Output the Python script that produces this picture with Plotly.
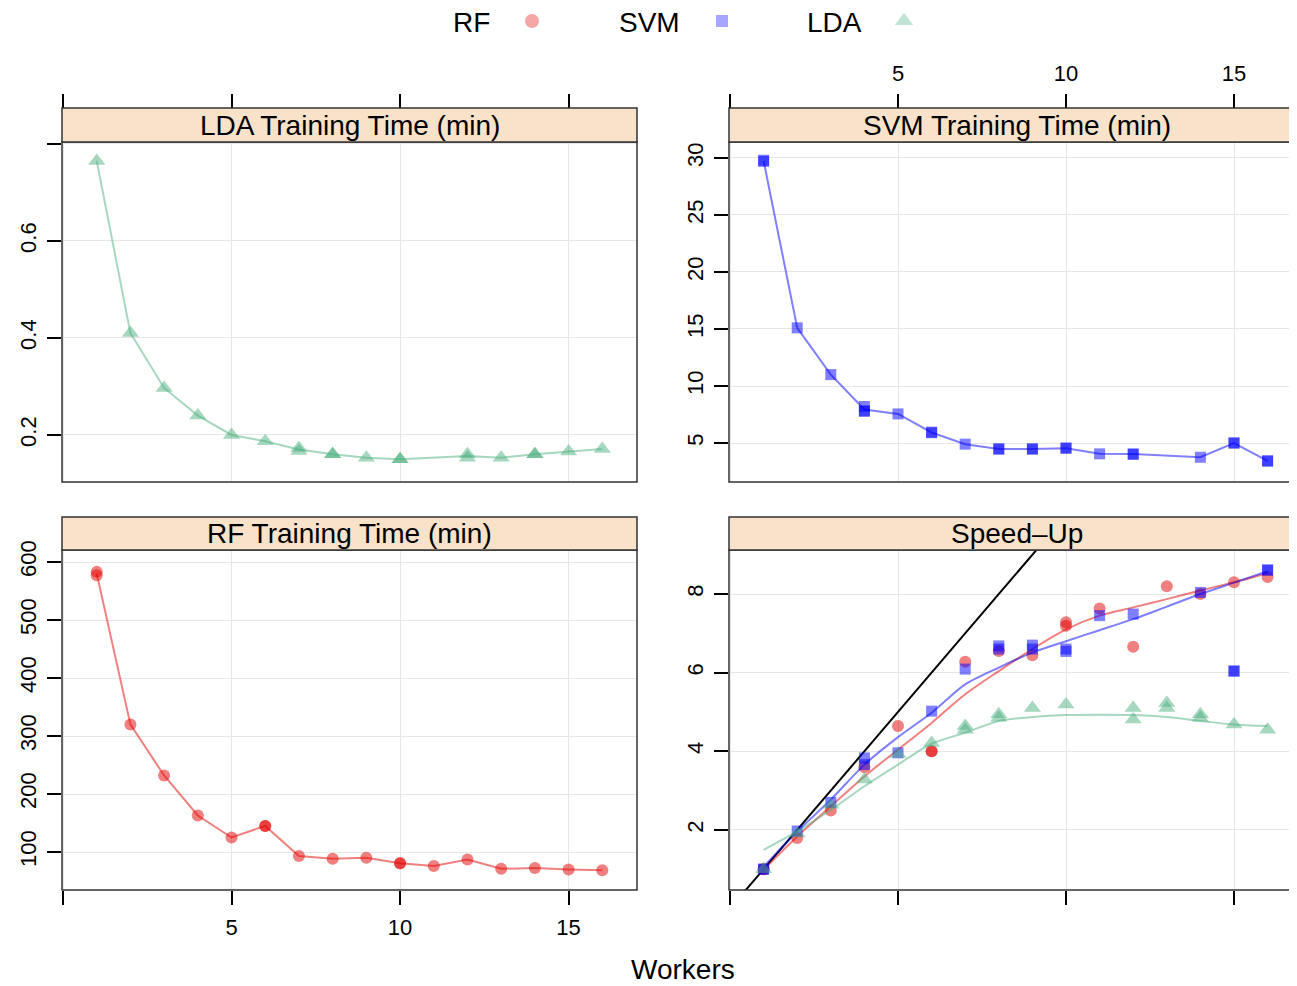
import plotly.graph_objects as go
import pandas as pd

W, H = 1297, 986
PAD = 8  # page margin around the plot div

# training times (repeated runs share a worker count)
rf_workers = [1, 1, 2, 3, 4, 5, 6, 6, 7, 8, 9, 10, 10, 11, 12, 13, 14, 15, 16]
rf_time = [583, 577, 320, 232, 163, 125, 145, 145, 93, 88.5, 90, 81, 80, 76, 87, 71, 72.5, 70, 68.5]

svm_workers = [1, 1, 2, 3, 4, 4, 4, 5, 6, 6, 7, 8, 8, 9, 9, 10, 10, 11, 12, 12, 14, 15, 15, 16, 16]
svm_time = [29.8, 29.7, 15.1, 11.0, 8.2, 7.8, 7.8, 7.55, 5.95, 5.9, 4.9, 4.5, 4.45, 4.5, 4.45,
            4.55, 4.55, 4.05, 4.05, 4.0, 3.75, 5.0, 5.0, 3.45, 3.4]

lda_workers = [1, 2, 3, 4, 5, 6, 7, 7, 8, 8, 9, 10, 10, 12, 12, 13, 14, 14, 15, 16]
lda_time = [0.765, 0.41, 0.297, 0.24, 0.2, 0.187, 0.173, 0.167, 0.16, 0.16, 0.153, 0.15, 0.15,
            0.16, 0.153, 0.153, 0.16, 0.16, 0.166, 0.171]

# speed-up points
rf_su_workers = [1, 1, 2, 3, 4, 5, 6, 6, 7, 8, 9, 10, 10, 11, 12, 13, 14, 15, 16]
rf_speedup = [1.0, 1.0, 1.79, 2.49, 3.59, 4.64, 4.0, 4.0, 6.28, 6.55, 6.44, 7.28, 7.19, 7.63,
              6.66, 8.2, 8.0, 8.3, 8.43]
svm_su_workers = [1, 1, 2, 3, 4, 4, 5, 6, 7, 8, 8, 9, 9, 10, 10, 11, 12, 14, 15, 15, 16, 16]
svm_speedup = [1.0, 1.0, 1.97, 2.7, 3.83, 3.66, 3.96, 5.02, 6.09, 6.68, 6.6, 6.7, 6.6, 6.6, 6.54,
               7.45, 7.49, 8.04, 6.04, 6.04, 8.61, 8.61]
lda_su_workers = [1, 2, 3, 4, 5, 6, 7, 7, 8, 8, 9, 10, 12, 12, 13, 13, 14, 14, 15, 16]
lda_speedup = [1.0, 1.91, 2.64, 3.28, 3.93, 4.21, 4.64, 4.55, 4.94, 4.85, 5.1, 5.19, 5.1, 4.81,
               5.23, 5.1, 4.94, 4.85, 4.68, 4.55]

# smoothed speed-up curves as drawn
smooth_workers = [1, 2, 3, 4, 5, 6, 7, 8, 9, 10, 11, 12, 13, 14, 15, 16]
rf_smooth = [0.98, 1.83, 2.6, 3.36, 4.04, 4.72, 5.45, 6.04, 6.6, 7.1, 7.45, 7.66, 7.87, 8.09, 8.3, 8.53]
svm_smooth = [1.06, 1.96, 2.77, 3.66, 4.36, 4.98, 5.7, 6.13, 6.51, 6.8, 7.08, 7.36, 7.68, 8.0, 8.29, 8.58]
lda_smooth = [1.49, 1.96, 2.51, 3.11, 3.66, 4.19, 4.47, 4.77, 4.87, 4.92, 4.93, 4.92, 4.87, 4.77, 4.68, 4.64]

ideal = [0, 17]  # linear speed-up reference

RED = (225, 0, 0)
BLUE = (0, 0, 255)
GREEN = (78, 176, 128)
ALPHA = 0.5


def rgba(c, a=ALPHA):
    return "rgba(%d,%d,%d,%.2f)" % (c[0], c[1], c[2], a)


def mean_line(workers, values):
    s = pd.Series(values).groupby(workers).mean()
    return s.index.tolist(), s.values.tolist()


def px(x):
    # page pixel -> paper x
    return (x - PAD) / W


def py(y):
    # page pixel -> paper y
    return 1 - (y - PAD) / H


FONT = "Liberation Sans, Arial, Helvetica, sans-serif"
BORDER = "#333333"
STRIP = "#F8E2C9"
GRID = "#E6E6E6"
BIG = 28

fig = go.Figure()

# --- time panels ---
panels = [
    ("x", "y", lda_workers, lda_time, GREEN, "triangle-up", 15),
    ("x2", "y2", svm_workers, svm_time, BLUE, "square", 11),
    ("x3", "y3", rf_workers, rf_time, RED, "circle", 12),
]
for xa, ya, wk, vals, col, sym, sz in panels:
    mx, my = mean_line(wk, vals)
    fig.add_trace(go.Scatter(x=mx, y=my, xaxis=xa, yaxis=ya, mode="lines",
                             line=dict(color=rgba(col), width=2), showlegend=False))
    fig.add_trace(go.Scatter(x=wk, y=vals, xaxis=xa, yaxis=ya, mode="markers",
                             marker=dict(color=rgba(col), symbol=sym, size=sz, line=dict(width=0)),
                             showlegend=False))

# --- speed-up panel ---
fig.add_trace(go.Scatter(x=ideal, y=ideal, xaxis="x4", yaxis="y4", mode="lines",
                         line=dict(color="black", width=2), showlegend=False))
speed = [
    (rf_su_workers, rf_speedup, rf_smooth, RED, "circle", 12),
    (svm_su_workers, svm_speedup, svm_smooth, BLUE, "square", 11),
    (lda_su_workers, lda_speedup, lda_smooth, GREEN, "triangle-up", 15),
]
for wk, vals, sm, col, sym, sz in speed:
    fig.add_trace(go.Scatter(x=wk, y=vals, xaxis="x4", yaxis="y4", mode="markers",
                             marker=dict(color=rgba(col), symbol=sym, size=sz, line=dict(width=0)),
                             showlegend=False))
    fig.add_trace(go.Scatter(x=smooth_workers, y=sm, xaxis="x4", yaxis="y4", mode="lines",
                             line=dict(color=rgba(col), width=2, shape="spline", smoothing=0.8),
                             showlegend=False))

# --- key at the top (text left of symbol) ---
legend_names = ["RF", "SVM", "LDA"]
legend_cols = [RED, BLUE, GREEN]
legend_syms = ["circle", "square", "triangle-up"]
legend_key_x = [532, 722, 904]
legend_text_x = [491, 681, 863]
fig.add_trace(go.Scatter(x=legend_key_x, y=[21, 21, 21], xaxis="x5", yaxis="y5", mode="markers",
                         marker=dict(color=[rgba(c) for c in legend_cols], symbol=legend_syms,
                                     size=[14, 12, 16], line=dict(width=0)),
                         showlegend=False, hoverinfo="skip"))

# geometry (page pixels)
LX = [px(62), px(637)]
RX = [px(729), 1.0]
TOP_Y = [py(482), py(142)]
BOT_Y = [py(890), py(550)]
TOP_STRIP = [py(142), py(108)]
BOT_STRIP = [py(550), py(517)]

tickfont = dict(family=FONT, size=22, color="black")
xticks = dict(tickvals=[0, 5, 10, 15], ticktext=["", "5", "10", "15"], ticks="outside",
              ticklen=14, tickwidth=1.5, tickcolor="black", showgrid=True, gridcolor=GRID,
              gridwidth=1, zeroline=False, showline=False, tickfont=tickfont, automargin=False)
yticks = dict(ticks="outside", ticklen=14, tickwidth=1.5, tickcolor="black", showgrid=True,
              gridcolor=GRID, gridwidth=1, zeroline=False, showline=False, tickangle=-90,
              tickfont=tickfont, ticklabelstandoff=2, automargin=False)

# right column: 0 at page x 730, 33.6 px per worker; left column: 0 at 63, 33.7 px
RIGHT_MAX = (W + PAD - 730) / 33.6

fig.update_layout(
    width=W, height=H,
    margin=dict(l=0, r=0, t=0, b=0, autoexpand=False),
    paper_bgcolor="white", plot_bgcolor="white",
    font=dict(family=FONT, color="black"),
    xaxis=dict(domain=LX, range=[-0.03, 17.03], side="top", anchor="free",
               position=py(108), showticklabels=False, **xticks),
    yaxis=dict(domain=TOP_Y, range=[0.103, 0.804], anchor="x",
               tickvals=[0.2, 0.4, 0.6, 0.8], ticktext=["0.2", "0.4", "0.6", ""], **yticks),
    xaxis2=dict(domain=RX, range=[-0.03, RIGHT_MAX], side="top", anchor="free",
                position=py(108), showticklabels=True, ticklabelstandoff=4, **xticks),
    yaxis2=dict(domain=TOP_Y, range=[1.58, 31.4], anchor="x2",
                tickvals=[5, 10, 15, 20, 25, 30], **yticks),
    xaxis3=dict(domain=LX, range=[-0.03, 17.03], anchor="y3", side="bottom",
                showticklabels=True, ticklabelstandoff=4, **xticks),
    yaxis3=dict(domain=BOT_Y, range=[34.5, 620.7], anchor="x3",
                tickvals=[100, 200, 300, 400, 500, 600], **yticks),
    xaxis4=dict(domain=RX, range=[-0.03, RIGHT_MAX], anchor="y4", side="bottom",
                showticklabels=False, **xticks),
    yaxis4=dict(domain=BOT_Y, range=[0.47, 9.12], anchor="x4",
                tickvals=[2, 4, 6, 8], **yticks),
    xaxis5=dict(domain=[0, 1], range=[PAD, W + PAD], visible=False, fixedrange=True,
                automargin=False),
    yaxis5=dict(domain=[py(44), 1], range=[44, PAD], visible=False, fixedrange=True,
                anchor="x5", automargin=False),
)

# panel frames and strips
shapes = []
annotations = []
strips = [
    ("x", "y", TOP_STRIP, "LDA Training Time (min)", 1.0),
    ("x2", "y2", TOP_STRIP, "SVM Training Time (min)", 1.03),
    ("x3", "y3", BOT_STRIP, "RF Training Time (min)", 1.0),
    ("x4", "y4", BOT_STRIP, "Speed\u2013Up", 1.03),
]
for xa, ya, sy, label, x1 in strips:
    shapes.append(dict(type="rect", xref=xa + " domain", yref=ya + " domain", x0=0, x1=x1,
                       y0=0, y1=1, line=dict(color=BORDER, width=1.5), layer="above"))
    shapes.append(dict(type="rect", xref=xa + " domain", yref="paper", x0=0, x1=x1,
                       y0=sy[0], y1=sy[1], fillcolor=STRIP, line=dict(color=BORDER, width=1.5),
                       layer="above"))
    cx = (LX[0] + LX[1]) / 2 if xa in ("x", "x3") else (px(729) + px(1305)) / 2
    annotations.append(dict(x=cx, y=(sy[0] + sy[1]) / 2, xref="paper", yref="paper",
                            text=label, showarrow=False, xanchor="center", yanchor="middle",
                            font=dict(family=FONT, size=BIG, color="black")))

for name, tx in zip(legend_names, legend_text_x):
    annotations.append(dict(x=px(tx), y=py(23), xref="paper", yref="paper", text=name,
                            showarrow=False, xanchor="right", yanchor="middle", borderpad=0,
                            font=dict(family=FONT, size=BIG, color="black")))

annotations.append(dict(x=px(683), y=py(969), xref="paper", yref="paper", text="Workers",
                        showarrow=False, xanchor="center", yanchor="middle", borderpad=0,
                        font=dict(family=FONT, size=BIG, color="black")))

fig.update_layout(shapes=shapes, annotations=annotations)

fig.write_html("out.html")
